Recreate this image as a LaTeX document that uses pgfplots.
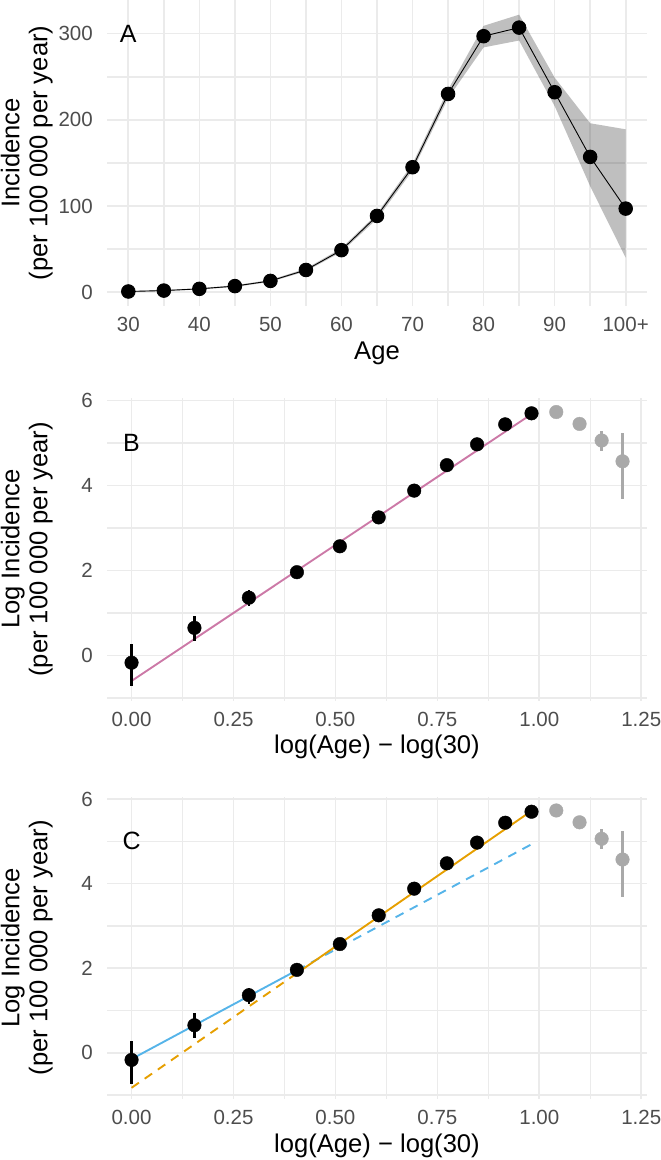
\documentclass[border=0pt]{standalone}
\usepackage{fontspec}
\setmainfont{Liberation Sans}
\usepackage{pgfplots}
\pgfplotsset{compat=1.18}
\definecolor{gridc}{HTML}{EBEBEB}
\definecolor{tickc}{HTML}{4D4D4D}
\definecolor{ptgray}{HTML}{A9A9A9}
\definecolor{pinkc}{HTML}{CC79A7}
\definecolor{orngc}{HTML}{E69F00}
\definecolor{skyc}{HTML}{56B4E9}
\newcommand\tickfont{\fontsize{20.5}{24}\selectfont}
\newcommand\titlefont{\fontsize{25.6}{28}\selectfont}
\newcommand\tagfont{\fontsize{25}{29}\selectfont}
\pgfplotsset{
 gg/.style={
  scale only axis, width=540pt,
  axis line style={draw=none},
  tick style={draw=none},
  major tick length=0pt, minor tick length=0pt,
  grid=both,
  major grid style={gridc, line width=1.7pt},
  minor grid style={gridc, line width=1.6pt},
  tick label style={font=\tickfont, text=tickc, inner sep=0pt},
  xticklabel style={anchor=center, yshift=-18.5pt},
  yticklabel style={anchor=east, xshift=-14pt},
  /pgf/number format/assume math mode=true,
  xlabel style={font=\titlefont, inner sep=0pt, anchor=base, at={(axis description cs:0.5,0)}, yshift=-53pt},
  ylabel style={font=\titlefont, inner sep=0pt, align=center, anchor=south, at={(axis description cs:-0.1,0.5)}},
  clip=false,
 },
 ggb/.style={
  gg,
  xmin=-0.0602, xmax=1.264,
  xtick={0,0.25,0.5,0.75,1,1.25},
  minor xtick={0.125,0.375,0.625,0.875,1.125},
  ytick={0,2,4,6}, minor ytick={-1,1,3,5},
  x tick label style={/pgf/number format/fixed, /pgf/number format/fixed zerofill, /pgf/number format/precision=2},
  xlabel={log(Age) − log(30)},
  ylabel={Log Incidence\\(per 100 000 per year)},
 },
 errb/.style={only marks, mark=*, mark size=6.8pt,
  error bars/.cd, y dir=both, y explicit, error mark=none,
  error bar style={line width=2.3pt, #1}},
}
\begin{document}
\begin{tikzpicture}[x=1pt,y=1pt]
\useasboundingbox (0,0) rectangle (661,-1160);
% ---------------- A ----------------
\begin{axis}[gg, at={(107pt,-306pt)}, anchor=south west, height=306pt,
 xmin=-0.6, xmax=14.6, ymin=-16, ymax=339,
 xtick={0,...,14}, xticklabels={30,,40,,50,,60,,70,,80,,90,,100+},
 ytick={0,100,200,300}, minor ytick={50,150,250},
 xlabel={Age}, ylabel={Incidence\\(per 100 000 per year)}]
\addplot[draw=none, fill=black, fill opacity=0.25] coordinates {
 (0,1.4)(1,2.5)(2,4.7)(3,8.0)(4,14.3)(5,27.4)(6,51)(7,91)(8,149)(9,235)(10,309)(11,322)(12,249)(13,196)(14,189)
 (14,40)(13,123)(12,216)(11,292)(10,284)(9,225)(8,141)(7,85)(6,46.8)(5,24.3)(4,12)(3,6.1)(2,3.1)(1,1.4)(0,0.5)} -- cycle;
\addplot[black, line width=0.9pt, mark=*, mark size=6.8pt] coordinates {
 (0,0.84)(1,1.9)(2,3.9)(3,7.1)(4,13.1)(5,25.8)(6,48.8)(7,88.5)(8,145)(9,230)(10,297)(11,307)(12,232)(13,157)(14,97)};
\node[font=\tagfont] at (axis cs:0,300) {A};
\end{axis}
% ---------------- B ----------------
\begin{axis}[ggb, at={(107pt,-700.5pt)}, anchor=south west, height=302.5pt,
 ymin=-1.06, ymax=6.06]
\addplot[pinkc, line width=1.9pt] coordinates {(0,-0.6)(0.9808,5.68)};
\addplot[ptgray, errb=ptgray] coordinates {
 (1.0415,5.73) += (0,0.05) -= (0,0.05)
 (1.0986,5.45) += (0,0.07) -= (0,0.07)
 (1.1527,5.06) += (0,0.22) -= (0,0.25)
 (1.2040,4.57) += (0,0.67) -= (0,0.88)};
\addplot[black, errb=black] coordinates {
 (0,-0.17) += (0,0.45) -= (0,0.56)
 (0.1542,0.65) += (0,0.28) -= (0,0.31)
 (0.2877,1.36) += (0,0.18) -= (0,0.20)
 (0.4055,1.96) += (0,0.11) -= (0,0.11)
 (0.5108,2.57) += (0,0.07) -= (0,0.07)
 (0.6061,3.25) += (0,0.05) -= (0,0.05)
 (0.6931,3.88) += (0,0.04) -= (0,0.04)
 (0.7732,4.48) += (0,0.03) -= (0,0.03)
 (0.8473,4.97) += (0,0.03) -= (0,0.03)
 (0.9163,5.44) += (0,0.03) -= (0,0.03)
 (0.9808,5.70) += (0,0.03) -= (0,0.03)};
\node[font=\tagfont] at (axis cs:0,5) {B};
\end{axis}
% ---------------- C ----------------
\begin{axis}[ggb, at={(107pt,-1099pt)}, anchor=south west, height=302.5pt,
 ymin=-1.095, ymax=6.06]
\addplot[skyc, line width=1.9pt] coordinates {(0,-0.15)(0.4055,1.95)};
\addplot[skyc, line width=1.9pt, dash pattern=on 9pt off 7pt] coordinates {(0.4055,1.95)(0.9808,4.93)};
\addplot[orngc, line width=1.9pt, dash pattern=on 9pt off 7pt] coordinates {(0,-0.83)(0.4055,1.88)};
\addplot[orngc, line width=1.9pt] coordinates {(0.4055,1.88)(0.9808,5.72)};
\addplot[ptgray, errb=ptgray] coordinates {
 (1.0415,5.73) += (0,0.05) -= (0,0.05)
 (1.0986,5.45) += (0,0.07) -= (0,0.07)
 (1.1527,5.06) += (0,0.22) -= (0,0.25)
 (1.2040,4.57) += (0,0.67) -= (0,0.88)};
\addplot[black, errb=black] coordinates {
 (0,-0.17) += (0,0.45) -= (0,0.56)
 (0.1542,0.65) += (0,0.28) -= (0,0.31)
 (0.2877,1.36) += (0,0.18) -= (0,0.20)
 (0.4055,1.96) += (0,0.11) -= (0,0.11)
 (0.5108,2.57) += (0,0.07) -= (0,0.07)
 (0.6061,3.25) += (0,0.05) -= (0,0.05)
 (0.6931,3.88) += (0,0.04) -= (0,0.04)
 (0.7732,4.48) += (0,0.03) -= (0,0.03)
 (0.8473,4.97) += (0,0.03) -= (0,0.03)
 (0.9163,5.44) += (0,0.03) -= (0,0.03)
 (0.9808,5.70) += (0,0.03) -= (0,0.03)};
\node[font=\tagfont] at (axis cs:0,5) {C};
\end{axis}
\end{tikzpicture}
\end{document}
